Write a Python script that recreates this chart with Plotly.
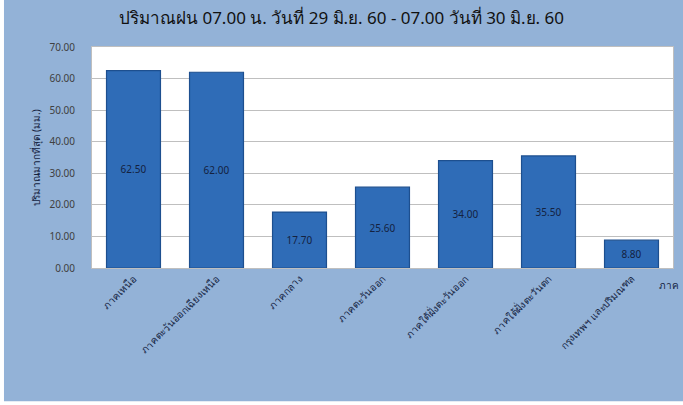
import plotly.graph_objects as go

categories = ["ภาคเหนือ", "ภาคตะวันออกเฉียงเหนือ", "ภาคกลาง", "ภาคตะวันออก",
              "ภาคใต้ฝั่งตะวันออก", "ภาคใต้ฝั่งตะวันตก", "กรุงเทพฯ และปริมณฑล"]
values = [62.50, 62.00, 17.70, 25.60, 34.00, 35.50, 8.80]
tick_vals = [0, 10, 20, 30, 40, 50, 60, 70]

title_text = "ปริมาณฝน 07.00 น. วันที่ 29 มิ.ย. 60 - 07.00 วันที่ 30 มิ.ย. 60"
y_title = "ปริมาณมากที่สุด (มม.)"
x_title = "ภาค"

BG = "#93b2d7"
FONT = "Tahoma, Noto Sans, DejaVu Sans, sans-serif"

fig = go.Figure(go.Bar(
    x=categories, y=values,
    marker=dict(color="#2f6cb7", line=dict(color="#1d4f8f", width=1.2)),
    text=[f"{v:.2f}" for v in values],
    textposition="inside", insidetextanchor="middle",
    textfont=dict(size=10, color="#14223f", family=FONT),
    textangle=0,
))

fig.update_layout(
    width=683, height=405,
    paper_bgcolor=BG, plot_bgcolor="white",
    margin=dict(l=92, r=10, t=47, b=137, autoexpand=False),
    bargap=0.35,
    showlegend=False,
    font=dict(family=FONT, color="#333333"),
    title=dict(text=title_text, x=0.5, xanchor="center", y=0.955, yanchor="middle",
               font=dict(size=17, color="#111111", family=FONT)),
    xaxis=dict(tickangle=-45, tickfont=dict(size=10, color="#14223f"),
               showline=True, linecolor="#bfbfbf", mirror=True, ticks="",
               automargin=False),
    yaxis=dict(range=[0, 70], tickvals=tick_vals, tickformat=".2f",
               tickfont=dict(size=10, color="#404040"),
               gridcolor="#bfbfbf", gridwidth=1, showline=True, linecolor="#bfbfbf",
               mirror=True, ticklabelstandoff=14, zeroline=False, automargin=False,
               title=dict(text=y_title, font=dict(size=10, color="#14223f"), standoff=6)),
    annotations=[dict(text=x_title, xref="paper", yref="paper", x=1.0145, y=-0.077,
                      xanchor="right", yanchor="middle", showarrow=False,
                      font=dict(size=10, color="#14223f"))],
    shapes=[
        dict(type="rect", xref="paper", yref="paper", x0=-0.17, x1=-0.1515,
             y0=-0.7, y1=1.3, fillcolor="white", line=dict(width=0), layer="above"),
        dict(type="rect", xref="paper", yref="paper", x0=-0.17, x1=1.1,
             y0=-0.7, y1=-0.603, fillcolor="white", line=dict(width=0), layer="above"),
    ],
)

fig.write_html("out.html", config={"displayModeBar": False},
               post_script="document.body.style.margin='0';document.body.style.overflow='hidden';")
